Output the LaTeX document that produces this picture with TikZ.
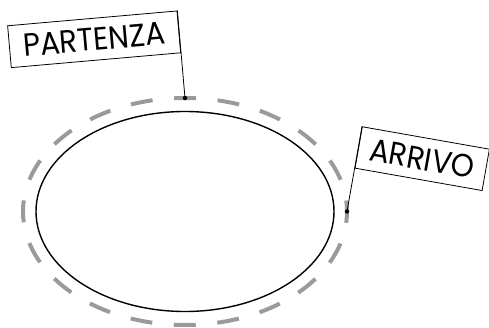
\documentclass[tikz,border=0pt]{standalone}
\usepackage{fontspec}
\setmainfont{Poppins}[FakeStretch=0.92]
\usetikzlibrary{calc}
\definecolor{trackgray}{HTML}{9a9a9a}
\tikzset{
  track/.style   = {draw=trackgray, line width=4pt,
                    dash pattern=on 22pt off 21.6pt, dash phase=11pt},
  lane/.style    = {draw=black, line width=1.4pt},
  flagbox/.style = {draw, line width=0.8pt, fill=white, inner sep=0pt,
                    minimum height=42pt, font=\fontsize{32}{32}\selectfont},
  pole/.style    = {line width=0.8pt},
  flagdot/.style = {circle, fill, inner sep=0pt, minimum size=4.5pt},
}
\begin{document}
\begin{tikzpicture}[x=1pt,y=1pt]
  \useasboundingbox (0,0) rectangle (489,327);
  % track
  \coordinate (c) at (185,115.5);
  \draw[track] (c) ellipse [x radius=162, y radius=113.5];
  \draw[lane] (c) ellipse [x radius=149, y radius=100];
  % start / finish points
  \node[flagdot] (pstart) at ($(c)+(0,113.5)$) {};
  \node[flagdot] (pend)   at ($(c)+(162,0)$) {};
  % flags
  \node[flagbox, minimum width=170pt, rotate=5, anchor=south east]
    (partenza) at ($(pstart)+(95:45)$) {PARTENZA};
  \node[flagbox, minimum width=129pt, rotate=-10, anchor=south west]
    (arrivo) at ($(pend)+(80:43.7)$) {ARRIVO};
  \draw[pole] (pstart.center) -- (partenza.north east);
  \draw[pole] (pend.center) -- (arrivo.north west);
\end{tikzpicture}
\end{document}
